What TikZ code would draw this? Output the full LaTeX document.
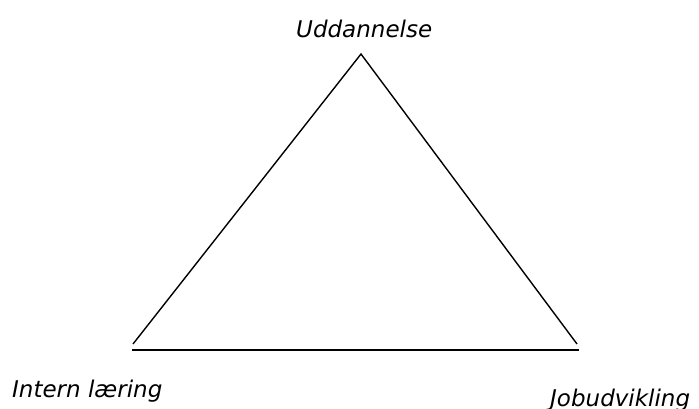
\documentclass[tikz,border=0pt]{standalone}
\usepackage{fontspec}
\setmainfont{DejaVu Sans}
\begin{document}
\begin{tikzpicture}[x=1pt,y=-1pt,
  lbl/.style={inner sep=0pt, anchor=base west, font=\fontsize{23}{26}\selectfont\itshape},
  edge/.style={line width=1.4pt, black}]
\useasboundingbox (0,0) rectangle (699,408);
\clip (0,0) rectangle (699,408);
\coordinate (apex) at (361,54);
\coordinate (bl) at (133,344);
\coordinate (br) at (577,344);
\coordinate (b1) at (132,350);
\coordinate (b2) at (579,350);
\draw[edge] (bl) -- (apex) -- (br);
\draw[edge] (b1) -- (b2);
\node[lbl] (top) at (296,37) {Uddannelse};
\node[lbl] (left) at (12,397) {Intern læring};
\node[lbl] (right) at (550,406) {Jobudvikling};
\end{tikzpicture}
\end{document}
